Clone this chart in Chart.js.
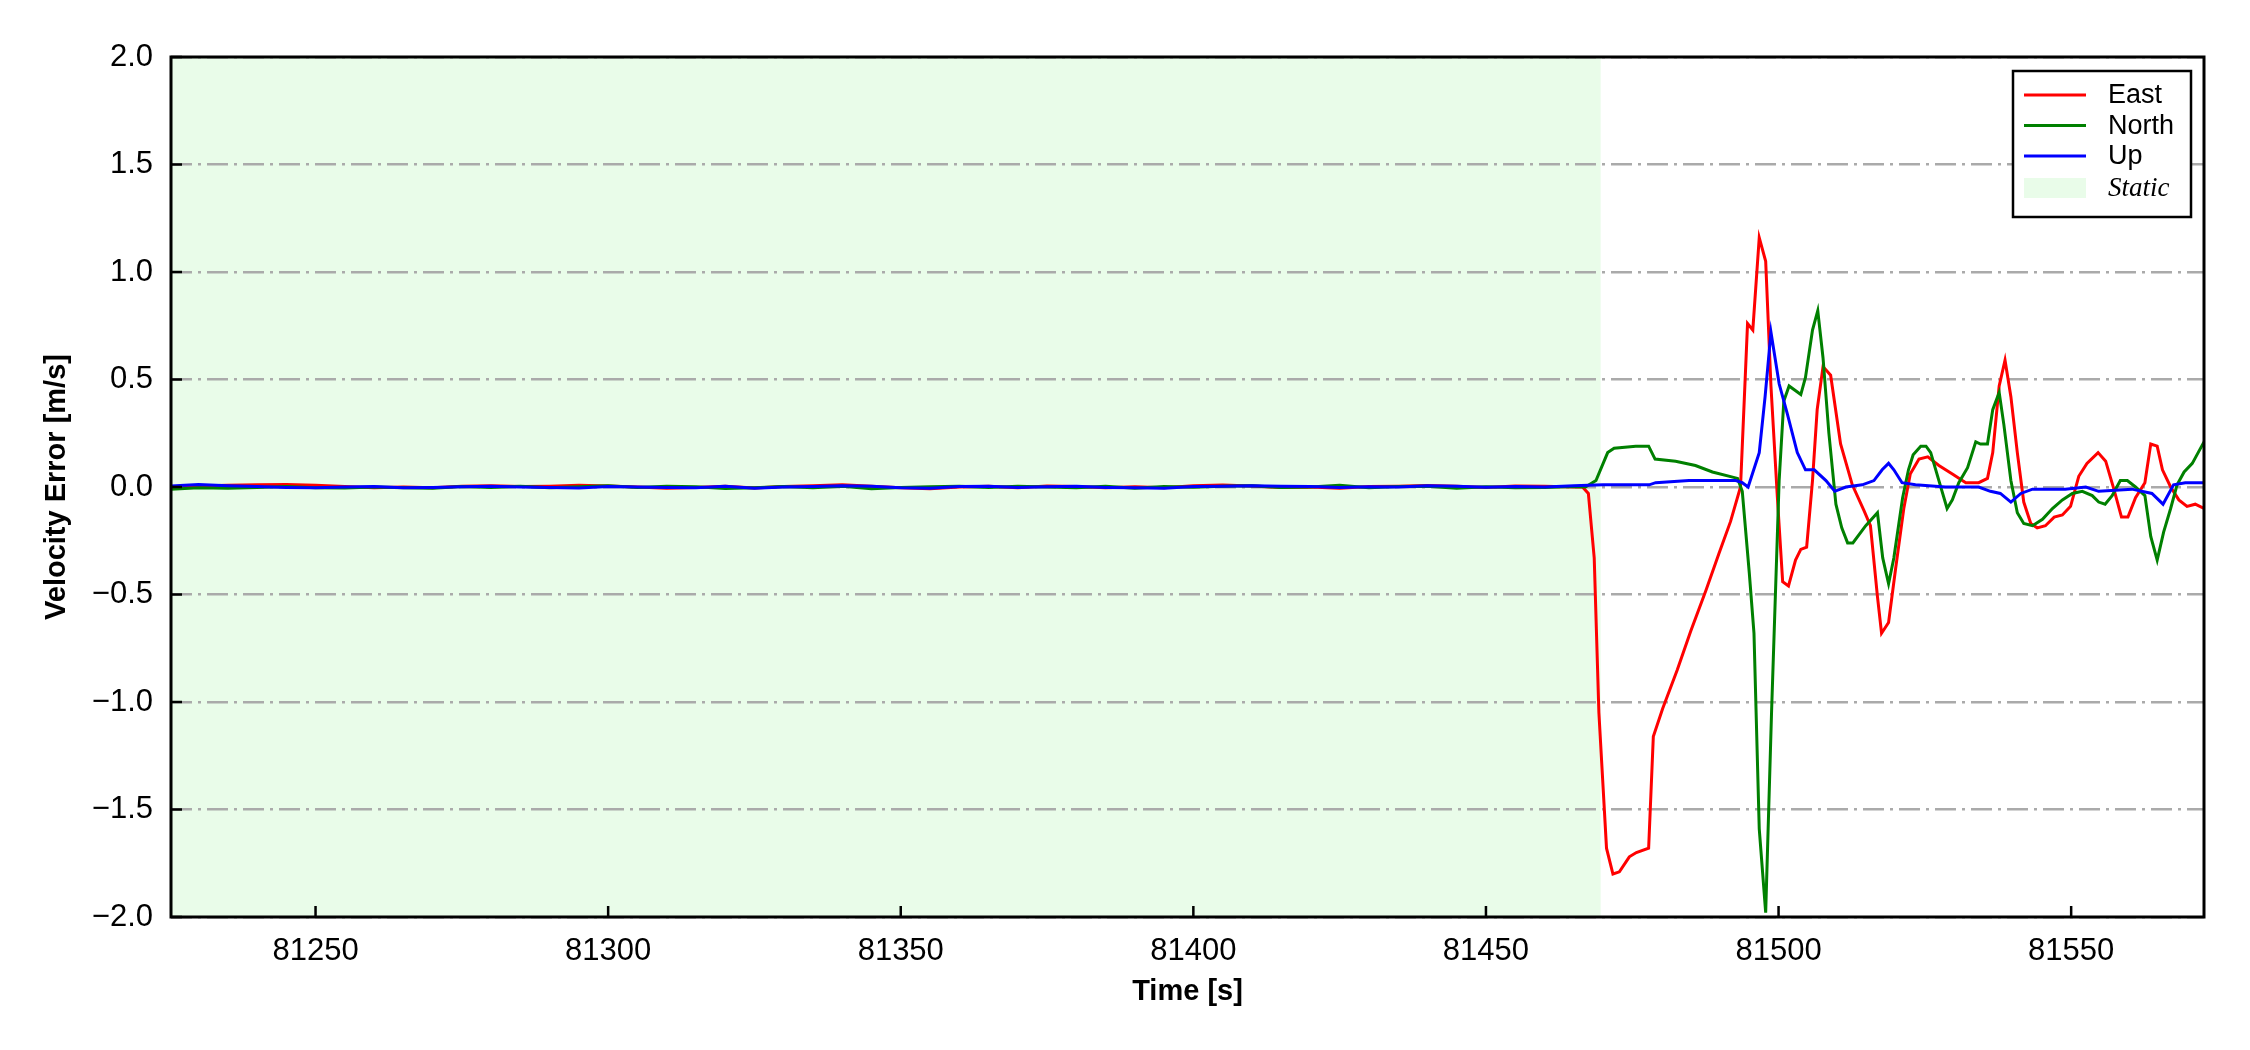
<!DOCTYPE html>
<html>
<head>
<meta charset="utf-8">
<script src="https://cdn.jsdelivr.net/npm/chart.js@4.4.1/dist/chart.umd.min.js"></script>
<style>
  html, body { margin: 0; padding: 0; background: #fff; }
  #wrap { width: 2250px; height: 1050px; }
</style>
</head>
<body>
<div id="wrap"><canvas id="velChart"></canvas></div>
<script>
// axis range and ticks
const xMin = 81225.3;
const xMax = 81572.7;
const staticEnd = 81469.6;
const xTickValues = [81250, 81300, 81350, 81400, 81450, 81500, 81550];
const yTickValues = [-2.0, -1.5, -1.0, -0.5, 0.0, 0.5, 1.0, 1.5, 2.0];

// static period (all three series share these times)
const quietT = [81225.3, 81230, 81235, 81240, 81245, 81250, 81255, 81260, 81265, 81270,
  81275, 81280, 81285, 81290, 81295, 81300, 81305, 81310, 81315, 81320,
  81325, 81330, 81335, 81340, 81345, 81350, 81355, 81360, 81365, 81370,
  81375, 81380, 81385, 81390, 81395, 81400, 81405, 81410, 81415, 81420,
  81425, 81430, 81435, 81440, 81445, 81450, 81455, 81460, 81465];
const quietEast = [0.000, 0.005, 0.008, 0.010, 0.012, 0.008, 0.002, -0.003, 0.000, -0.004,
  0.003, 0.006, 0.002, 0.004, 0.008, 0.005, 0.000, -0.006, -0.002, 0.003,
  -0.005, 0.002, 0.006, 0.010, 0.004, -0.004, -0.008, 0.000, 0.003, -0.003,
  0.005, 0.002, -0.004, 0.001, -0.003, 0.006, 0.009, 0.005, -0.002, 0.000,
  -0.006, 0.002, 0.004, 0.007, 0.003, -0.002, 0.005, 0.004, 0.000];
const quietNorth = [-0.010, -0.004, -0.006, -0.002, 0.002, -0.003, -0.005, 0.000, -0.004, -0.006,
  0.002, -0.002, 0.004, -0.003, 0.001, 0.006, -0.002, 0.004, 0.001, -0.007,
  -0.003, 0.002, -0.004, 0.003, -0.008, -0.002, 0.001, 0.004, -0.002, 0.003,
  0.000, -0.004, 0.004, -0.006, 0.002, -0.001, 0.003, 0.006, -0.002, 0.000,
  0.008, -0.003, 0.002, 0.004, -0.006, 0.001, -0.004, -0.002, 0.002];
const quietUp = [0.005, 0.012, 0.006, 0.002, -0.002, -0.004, 0.000, 0.002, -0.003, -0.002,
  0.001, 0.003, 0.000, -0.002, -0.005, 0.002, 0.000, -0.002, -0.004, 0.003,
  -0.006, 0.000, 0.002, 0.006, 0.004, -0.004, -0.006, 0.002, 0.004, -0.002,
  0.001, 0.003, -0.002, -0.004, -0.006, 0.002, 0.004, 0.006, 0.003, 0.002,
  -0.002, 0.001, 0.000, 0.006, 0.003, -0.001, 0.002, 0.000, 0.006];

// dynamic period
const eastT = [81466.5, 81467.5, 81468.5, 81469.3, 81470.6, 81471.7, 81472.8, 81474.5, 81475.7, 81477.8,
  81478.6, 81480.2, 81482.7, 81485.0, 81487.6, 81489.8, 81491.8, 81493.5, 81494.7, 81495.6,
  81496.7, 81497.8, 81498.7, 81499.8, 81500.7, 81501.7, 81502.9, 81503.8, 81504.8, 81505.8,
  81506.6, 81507.6, 81508.9, 81510.6, 81512.6, 81514.6, 81515.7, 81516.9, 81517.6, 81518.8,
  81520.0, 81521.4, 81522.5, 81524.0, 81525.5, 81527.4, 81529.7, 81532.0, 81534.2, 81535.7,
  81536.6, 81537.7, 81538.7, 81539.7, 81540.8, 81541.9, 81543.1, 81544.2, 81545.6, 81547.1,
  81548.5, 81549.9, 81551.3, 81552.7, 81554.6, 81555.9, 81557.3, 81558.6, 81559.7, 81561.0,
  81562.6, 81563.6, 81564.7, 81565.6, 81567.0, 81568.4, 81569.8, 81571.2, 81572.7];
const eastV = [0.00, -0.03, -0.33, -1.05, -1.68, -1.80, -1.79, -1.72, -1.70, -1.68,
  -1.16, -1.03, -0.85, -0.67, -0.48, -0.31, -0.16, 0.00, 0.76, 0.73,
  1.16, 1.05, 0.47, -0.05, -0.44, -0.46, -0.34, -0.29, -0.28, 0.03,
  0.36, 0.56, 0.52, 0.20, 0.01, -0.11, -0.18, -0.51, -0.68, -0.63,
  -0.38, -0.10, 0.06, 0.13, 0.14, 0.10, 0.06, 0.02, 0.02, 0.04,
  0.16, 0.47, 0.59, 0.42, 0.16, -0.07, -0.17, -0.19, -0.18, -0.14,
  -0.13, -0.09, 0.05, 0.11, 0.16, 0.12, -0.01, -0.14, -0.14, -0.05,
  0.02, 0.20, 0.19, 0.08, 0.00, -0.06, -0.09, -0.08, -0.10];

const northT = [81467.0, 81468.8, 81470.8, 81471.9, 81475.6, 81477.8, 81478.9, 81482.4, 81485.8, 81488.7,
  81493.0, 81493.8, 81495.0, 81495.8, 81496.7, 81497.8, 81498.8, 81500.1, 81500.9, 81501.8,
  81503.8, 81504.6, 81505.8, 81506.7, 81507.6, 81508.6, 81509.8, 81510.8, 81511.8, 81512.7,
  81514.9, 81516.9, 81517.8, 81518.8, 81519.7, 81521.2, 81522.2, 81523.0, 81524.3, 81525.2,
  81526.0, 81527.4, 81528.8, 81529.7, 81530.8, 81532.3, 81533.7, 81534.5, 81535.7, 81536.6,
  81537.7, 81538.5, 81539.7, 81540.8, 81541.9, 81543.4, 81545.1, 81546.8, 81548.5, 81550.2,
  81551.9, 81553.6, 81554.7, 81555.8, 81557.0, 81558.4, 81559.6, 81561.0, 81562.6, 81563.6,
  81564.7, 81565.8, 81567.0, 81568.1, 81569.3, 81570.7, 81571.7, 81572.7];
const northV = [0.00, 0.03, 0.16, 0.18, 0.19, 0.19, 0.13, 0.12, 0.10, 0.07,
  0.04, -0.02, -0.40, -0.68, -1.59, -1.98, -1.05, 0.03, 0.40, 0.47,
  0.43, 0.51, 0.73, 0.82, 0.60, 0.25, -0.08, -0.19, -0.26, -0.26,
  -0.18, -0.12, -0.33, -0.45, -0.33, -0.05, 0.08, 0.15, 0.19, 0.19,
  0.16, 0.03, -0.10, -0.06, 0.02, 0.09, 0.21, 0.20, 0.20, 0.36,
  0.44, 0.29, 0.03, -0.12, -0.17, -0.18, -0.15, -0.10, -0.06, -0.03,
  -0.02, -0.04, -0.07, -0.08, -0.04, 0.03, 0.03, 0.00, -0.04, -0.23,
  -0.34, -0.21, -0.10, 0.01, 0.07, 0.11, 0.16, 0.21];

const upT = [81470.0, 81477.9, 81479.0, 81484.7, 81492.7, 81493.8, 81494.8, 81496.7, 81497.7, 81498.7,
  81500.1, 81501.5, 81503.2, 81504.6, 81506.1, 81508.1, 81509.6, 81511.5, 81514.3, 81516.3,
  81517.7, 81518.8, 81519.7, 81521.1, 81523.4, 81528.5, 81534.2, 81536.2, 81537.9, 81539.7,
  81541.4, 81543.4, 81549.0, 81552.5, 81554.7, 81560.4, 81563.8, 81565.7, 81567.5, 81569.5,
  81572.7];
const upV = [0.01, 0.01, 0.02, 0.03, 0.03, 0.02, 0.00, 0.16, 0.42, 0.72,
  0.48, 0.34, 0.16, 0.08, 0.08, 0.03, -0.02, 0.00, 0.01, 0.03,
  0.08, 0.11, 0.08, 0.02, 0.01, 0.00, 0.00, -0.02, -0.03, -0.07,
  -0.03, -0.01, -0.01, 0.00, -0.02, -0.01, -0.03, -0.08, 0.01, 0.02,
  0.02];

function toPoints(ts, vs) {
  return ts.map((t, i) => ({ x: t, y: vs[i] }));
}

const legendItems = [
  { label: 'East', color: '#ff0000' },
  { label: 'North', color: '#008000' },
  { label: 'Up', color: '#0000ff' }
];
const staticFill = 'rgba(144,238,144,0.2)';

const framePlugin = {
  id: 'framePlugin',
  beforeDraw(chart) {
    const { ctx, chartArea: a, scales } = chart;
    ctx.save();
    ctx.fillStyle = '#ffffff';
    ctx.fillRect(0, 0, chart.width, chart.height);
    const xe = scales.x.getPixelForValue(staticEnd);
    ctx.fillStyle = staticFill;
    ctx.fillRect(a.left, a.top, xe - a.left, a.bottom - a.top);
    ctx.restore();
  },
  afterDraw(chart) {
    const { ctx, chartArea: a, scales } = chart;
    ctx.save();
    // inward tick marks
    ctx.strokeStyle = '#000';
    ctx.lineWidth = 2.5;
    ctx.beginPath();
    yTickValues.forEach(v => {
      const y = scales.y.getPixelForValue(v);
      ctx.moveTo(a.left, y);
      ctx.lineTo(a.left + 11, y);
    });
    xTickValues.forEach(v => {
      const x = scales.x.getPixelForValue(v);
      ctx.moveTo(x, a.bottom);
      ctx.lineTo(x, a.bottom - 11);
    });
    ctx.stroke();
    // frame
    ctx.lineWidth = 3;
    ctx.strokeRect(a.left, a.top, a.right - a.left, a.bottom - a.top);

    // legend
    const bx = a.right - 191, by = a.top + 14, bw = 178, bh = 146;
    ctx.fillStyle = '#fff';
    ctx.fillRect(bx, by, bw, bh);
    ctx.lineWidth = 2.5;
    ctx.strokeRect(bx, by, bw, bh);
    ctx.textBaseline = 'middle';
    ctx.textAlign = 'left';
    legendItems.forEach((it, i) => {
      const y = by + 24 + i * 30.5;
      ctx.strokeStyle = it.color;
      ctx.lineWidth = 3;
      ctx.beginPath();
      ctx.moveTo(bx + 11, y);
      ctx.lineTo(bx + 73, y);
      ctx.stroke();
      ctx.fillStyle = '#000';
      ctx.font = '27px "Liberation Sans", Arial, sans-serif';
      ctx.fillText(it.label, bx + 95, y + 1);
    });
    const sy = by + 117;
    ctx.fillStyle = staticFill;
    ctx.fillRect(bx + 11, sy - 10, 62, 20);
    ctx.fillStyle = '#000';
    ctx.font = 'italic 27px "Liberation Serif", "Times New Roman", serif';
    ctx.fillText('Static', bx + 95, sy + 1);
    ctx.restore();
  }
};

const tickFont = { family: '"Liberation Sans", Arial, sans-serif', size: 31 };
const titleFont = { family: '"Liberation Sans Narrow", "Liberation Sans", Arial, sans-serif', size: 29, weight: 'bold' };

new Chart(document.getElementById('velChart'), {
  type: 'line',
  data: {
    datasets: [
      { label: 'East', data: toPoints(quietT.concat(eastT), quietEast.concat(eastV)),
        borderColor: '#ff0000', order: 2 },
      { label: 'North', data: toPoints(quietT.concat(northT), quietNorth.concat(northV)),
        borderColor: '#008000', order: 1 },
      { label: 'Up', data: toPoints(quietT.concat(upT), quietUp.concat(upV)),
        borderColor: '#0000ff', order: 0 }
    ]
  },
  options: {
    responsive: true,
    maintainAspectRatio: false,
    animation: false,
    layout: { padding: { top: 57, right: 46, left: 0, bottom: 0 } },
    elements: {
      line: { borderWidth: 3, tension: 0, fill: false },
      point: { radius: 0 }
    },
    plugins: { legend: { display: false }, tooltip: { enabled: false } },
    scales: {
      x: {
        type: 'linear',
        min: xMin,
        max: xMax,
        afterBuildTicks: s => { s.ticks = xTickValues.map(v => ({ value: v })); },
        afterFit: s => { s.height = 133; },
        ticks: { font: tickFont, color: '#000', padding: 8, maxRotation: 0,
          callback: v => String(v) },
        grid: { display: false },
        border: { display: false },
        title: { display: true, text: 'Time [s]', font: titleFont, color: '#000',
          padding: { top: 0, bottom: 41 } }
      },
      y: {
        min: -2,
        max: 2,
        afterBuildTicks: s => { s.ticks = yTickValues.map(v => ({ value: v })); },
        afterFit: s => { s.width = 171; },
        ticks: { font: tickFont, color: '#000', padding: 18,
          callback: v => (v < 0 ? '\u2212' : '') + Math.abs(v).toFixed(1) },
        grid: { color: '#aaaaaa', lineWidth: 2.5, drawTicks: false },
        border: { display: false, dash: [21, 6, 3, 6] },
        title: { display: true, text: 'Velocity Error [m/s]', font: titleFont, color: '#000',
          padding: { top: 40, bottom: 0 } }
      }
    }
  },
  plugins: [framePlugin]
});
</script>
</body>
</html>
